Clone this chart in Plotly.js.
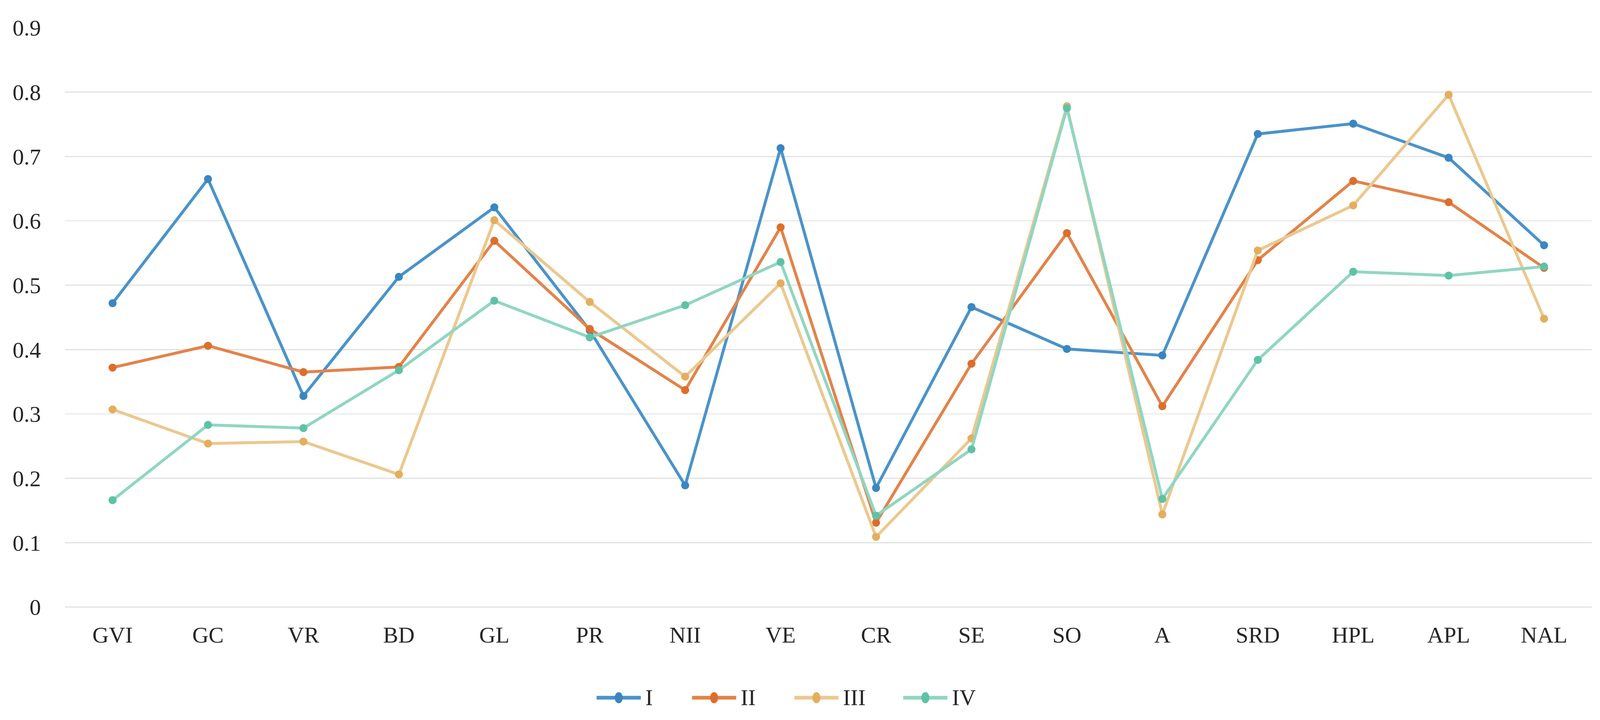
<!DOCTYPE html>
<html>
<head>
<meta charset="utf-8">
<script src="https://cdn.plot.ly/plotly-3.0.1.min.js"></script>
<style>html,body{margin:0;padding:0;background:#fff;overflow:hidden;}#chart{position:absolute;left:0;top:0;}</style>
</head>
<body>
<div id="chart"></div>
<script>
const categories = ["GVI","GC","VR","BD","GL","PR","NII","VE","CR","SE","SO","A","SRD","HPL","APL","NAL"];
const seriesNames = ["I","II","III","IV"];
const valuesI   = [0.472,0.665,0.328,0.513,0.621,0.430,0.189,0.713,0.185,0.466,0.401,0.391,0.735,0.751,0.698,0.562];
const valuesII  = [0.372,0.406,0.365,0.373,0.569,0.432,0.337,0.590,0.131,0.378,0.581,0.312,0.539,0.662,0.629,0.527];
const valuesIII = [0.307,0.254,0.257,0.206,0.601,0.474,0.358,0.503,0.109,0.262,0.778,0.144,0.554,0.624,0.796,0.448];
const valuesIV  = [0.166,0.283,0.278,0.368,0.476,0.419,0.469,0.536,0.142,0.245,0.775,0.168,0.384,0.521,0.515,0.529];
const yTicks = [0,0.1,0.2,0.3,0.4,0.5,0.6,0.7,0.8,0.9];

const lineColors   = ["#4A93CA","#E3834A","#EBC88E","#90D6C2"];
const markerColors = ["#3A86C2","#DD6E2B","#E4AE5E","#5EC2A6"];
const allValues = [valuesI, valuesII, valuesIII, valuesIV];

// Reference design size and plot box (px)
const REF_W = 4377, REF_H = 1842;
const M = {l: 177, r: 22, t: 71, b: 289};
const W = window.innerWidth || REF_W;
const H = window.innerHeight || REF_H;
const k = W / REF_W;
const kh = H / REF_H;
const plotW = REF_W - M.l - M.r, plotH = REF_H - M.t - M.b;
const px2paperX = x => (x - M.l) / plotW;
const px2paperY = y => (REF_H - M.b - y) / plotH;

const traces = allValues.map((vals, i) => ({
  type: "scatter",
  mode: "lines+markers",
  name: seriesNames[i],
  x: categories,
  y: vals,
  line: {color: lineColors[i], width: 8 * k},
  marker: {color: markerColors[i], size: 22 * k, line: {width: 0}},
  cliponaxis: false,
  showlegend: false
}));

const font = {family: "Liberation Serif, Times New Roman, serif", size: 62 * k, color: "#262626"};

// Custom legend (line segment + marker + label), laid out like the reference
const legendY = 1785;
const legendLineStart = [1632, 1893, 2173, 2471];
const legendLineLen = 121;
const legendTextGap = 10;
const shapes = [];
const annotations = [];
seriesNames.forEach((name, i) => {
  const x0 = legendLineStart[i], x1 = x0 + legendLineLen, xm = (x0 + x1) / 2;
  shapes.push({
    type: "line", xref: "paper", yref: "paper",
    x0: px2paperX(x0), x1: px2paperX(x1), y0: px2paperY(legendY), y1: px2paperY(legendY),
    line: {color: lineColors[i], width: 10 * k}
  });
  const r = 11;
  shapes.push({
    type: "circle", xref: "paper", yref: "paper",
    x0: px2paperX(xm - r), x1: px2paperX(xm + r),
    y0: px2paperY(legendY + r * 1.3), y1: px2paperY(legendY - r * 1.3),
    fillcolor: markerColors[i], line: {width: 0}
  });
  annotations.push({
    xref: "paper", yref: "paper",
    x: px2paperX(x1 + legendTextGap), y: px2paperY(legendY),
    xanchor: "left", yanchor: "middle", showarrow: false,
    text: name, font: font
  });
});

const layout = {
  width: W,
  height: H,
  paper_bgcolor: "#ffffff",
  plot_bgcolor: "#ffffff",
  margin: {l: M.l * k, r: M.r * k, t: M.t * kh, b: M.b * kh, pad: 0},
  font: font,
  showlegend: false,
  shapes: shapes,
  annotations: annotations,
  xaxis: {
    type: "category",
    categoryorder: "array",
    categoryarray: categories,
    range: [-0.5, categories.length - 0.5],
    showgrid: false,
    zeroline: false,
    showline: false,
    ticks: "",
    ticklabelstandoff: 32 * kh,
    tickfont: font,
    fixedrange: true
  },
  yaxis: {
    range: [0, 0.9],
    tickvals: yTicks,
    ticktext: yTicks.map(v => String(v)),
    showgrid: true,
    gridcolor: "#E2E2E2",
    gridwidth: 3 * k,
    zeroline: true,
    zerolinecolor: "#D4D4D4",
    zerolinewidth: 3 * k,
    showline: false,
    ticks: "outside",
    ticklen: 52 * k,
    tickcolor: "rgba(0,0,0,0)",
    tickfont: font,
    fixedrange: true
  }
};

Plotly.newPlot("chart", traces, layout, {displayModeBar: false, staticPlot: true});
</script>
</body>
</html>
